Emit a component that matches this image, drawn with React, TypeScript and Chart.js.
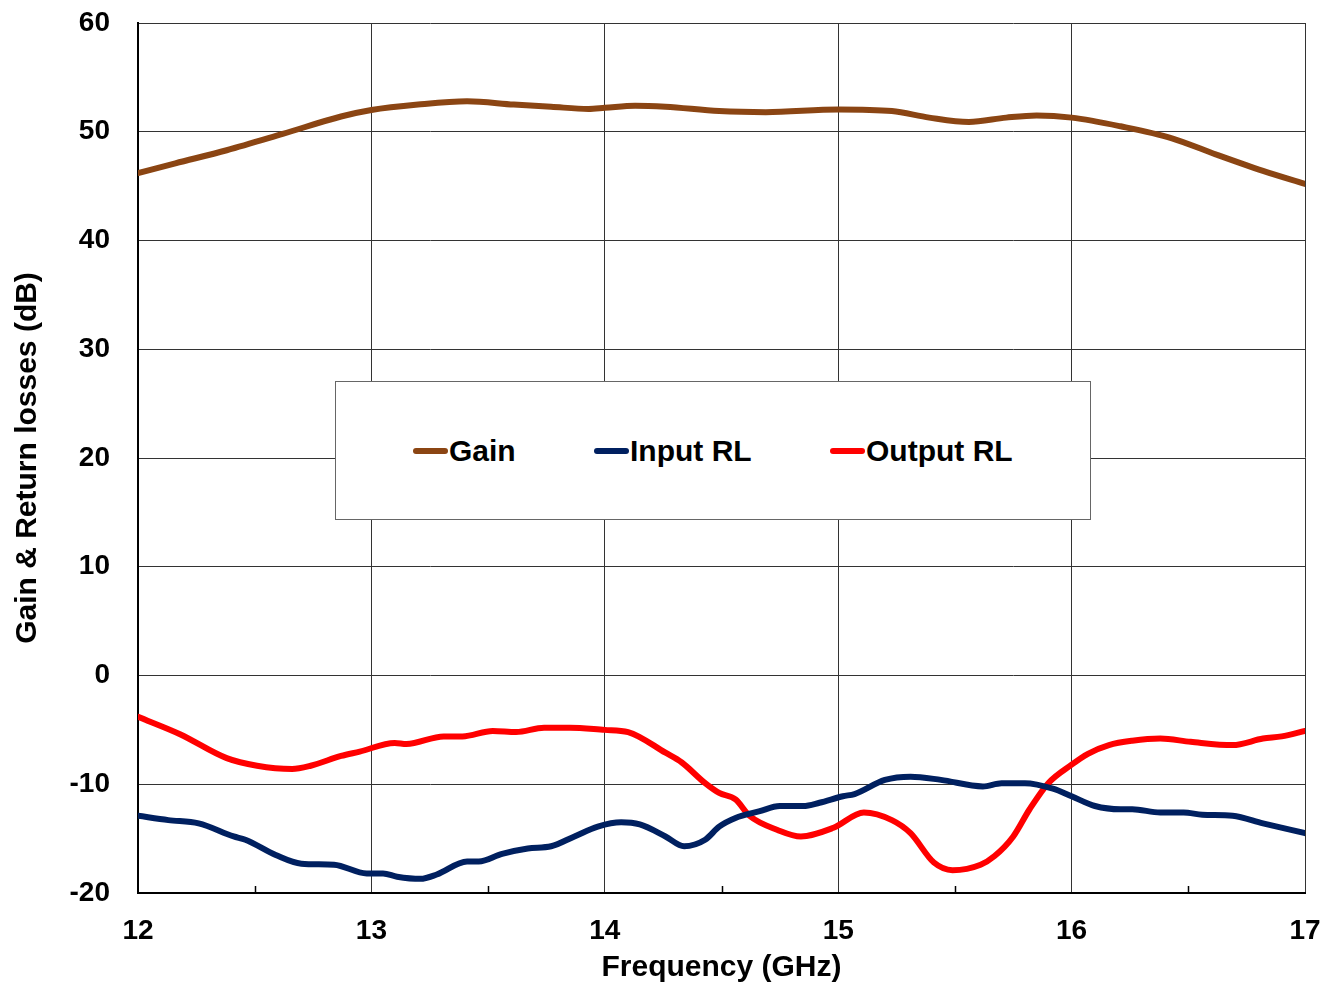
import React, { useEffect, useRef } from 'react';
import { Chart, registerables } from 'chart.js';

Chart.register(...registerables);

// ---- Data ----
const gainFreq = [12.0, 12.16, 12.38, 12.62, 12.87, 13.0, 13.2, 13.41, 13.61, 13.77, 13.93, 14.0, 14.13, 14.26, 14.49, 14.69, 15.0, 15.23, 15.39, 15.56, 15.72, 15.85, 16.0, 16.21, 16.43, 16.62, 16.82, 17.0];
const gainDb = [46.2, 47.1, 48.3, 49.8, 51.4, 52.0, 52.5, 52.8, 52.5, 52.3, 52.1, 52.2, 52.4, 52.3, 51.9, 51.8, 52.05, 51.9, 51.3, 50.9, 51.3, 51.5, 51.3, 50.5, 49.4, 47.9, 46.4, 45.2];

const inputFreq = [12.0, 12.13, 12.26, 12.41, 12.46, 12.59, 12.7, 12.84, 12.98, 13.05, 13.11, 13.21, 13.28, 13.41, 13.46, 13.56, 13.67, 13.77, 13.87, 13.97, 14.07, 14.15, 14.26, 14.34, 14.43, 14.49, 14.56, 14.66, 14.75, 14.85, 14.92, 15.02, 15.07, 15.2, 15.31, 15.44, 15.62, 15.7, 15.8, 15.92, 16.0, 16.1, 16.21, 16.26, 16.38, 16.48, 16.56, 16.69, 16.82, 17.0];
const inputDb = [-12.9, -13.3, -13.6, -14.8, -15.1, -16.5, -17.3, -17.4, -18.2, -18.2, -18.5, -18.7, -18.3, -17.1, -17.1, -16.4, -15.9, -15.7, -14.8, -13.9, -13.5, -13.7, -14.8, -15.7, -15.1, -13.9, -13.1, -12.5, -12.0, -12.0, -11.7, -11.1, -10.9, -9.6, -9.3, -9.6, -10.2, -9.9, -9.9, -10.4, -11.1, -12.0, -12.3, -12.3, -12.6, -12.6, -12.8, -12.9, -13.6, -14.5];

const outputFreq = [12.0, 12.18, 12.38, 12.51, 12.66, 12.74, 12.87, 12.95, 13.1, 13.15, 13.31, 13.39, 13.52, 13.62, 13.74, 13.85, 14.0, 14.1, 14.26, 14.33, 14.43, 14.49, 14.56, 14.62, 14.74, 14.84, 14.98, 15.11, 15.23, 15.31, 15.41, 15.49, 15.61, 15.67, 15.75, 15.82, 15.9, 16.0, 16.07, 16.16, 16.26, 16.38, 16.51, 16.69, 16.82, 16.9, 17.0];
const outputDb = [-3.8, -5.4, -7.6, -8.3, -8.6, -8.3, -7.4, -7.0, -6.2, -6.3, -5.6, -5.6, -5.1, -5.2, -4.8, -4.8, -5.0, -5.2, -7.1, -8.0, -9.9, -10.8, -11.4, -12.9, -14.2, -14.8, -14.0, -12.6, -13.3, -14.5, -17.2, -17.9, -17.4, -16.6, -14.8, -12.3, -9.9, -8.2, -7.2, -6.4, -6.0, -5.8, -6.1, -6.4, -5.8, -5.6, -5.1];

const seriesNames = ['Gain', 'Input RL', 'Output RL'];
const seriesColors = ['#8B4513', '#002060', '#FF0000'];
const minorTickFreqs = [12.5, 13.5, 14.5, 15.5, 16.5];

const FONT = "'Liberation Sans', Arial, sans-serif";

const minorTicksPlugin = {
  id: 'minorTicks',
  afterDraw(chart: any) {
    const { ctx } = chart;
    const xs = chart.scales.x;
    const ys = chart.scales.y;
    ctx.save();
    ctx.strokeStyle = '#000';
    ctx.lineWidth = 1.5;
    ctx.beginPath();
    for (const f of minorTickFreqs) {
      const px = Math.round(xs.getPixelForValue(f)) + 0.5;
      ctx.moveTo(px, ys.bottom);
      ctx.lineTo(px, ys.bottom - 7);
    }
    ctx.stroke();
    ctx.restore();
  },
};

export default function App() {
  const canvasRef = useRef<HTMLCanvasElement | null>(null);

  useEffect(() => {
    const toPts = (xs: number[], ys: number[]) => xs.map((x, i) => ({ x, y: ys[i] }));
    const chart = new Chart(canvasRef.current as HTMLCanvasElement, {
      type: 'line',
      data: {
        datasets: [
          { label: seriesNames[0], data: toPts(gainFreq, gainDb) },
          { label: seriesNames[1], data: toPts(inputFreq, inputDb) },
          { label: seriesNames[2], data: toPts(outputFreq, outputDb) },
        ].map((d, i) => ({
          ...d,
          borderColor: seriesColors[i],
          backgroundColor: seriesColors[i],
          borderWidth: 6,
          pointRadius: 0,
          fill: false,
          cubicInterpolationMode: 'monotone' as const,
          borderCapStyle: 'round' as const,
          borderJoinStyle: 'round' as const,
        })),
      },
      options: {
        responsive: false,
        animation: false,
        layout: { padding: { left: 0, right: 30, top: 23, bottom: 0 } },
        plugins: { legend: { display: false }, tooltip: { enabled: false } },
        scales: {
          x: {
            type: 'linear',
            min: 12,
            max: 17,
            afterFit: (s: any) => {
              s.height = 93;
              s.paddingLeft = 0;
              s.paddingRight = 0;
            },
            ticks: {
              stepSize: 1,
              padding: 21,
              color: '#000',
              font: { family: FONT, size: 28, weight: 'bold' },
            },
            grid: { color: '#333', lineWidth: 1, drawTicks: false },
            border: { color: '#000', width: 2 },
            title: {
              display: true,
              text: 'Frequency (GHz)',
              color: '#000',
              font: { family: FONT, size: 30, weight: 'bold' },
              padding: { top: 0, bottom: 0 },
            },
          },
          y: {
            type: 'linear',
            min: -20,
            max: 60,
            afterFit: (s: any) => {
              s.width = 138;
              s.paddingTop = 0;
              s.paddingBottom = 0;
            },
            ticks: {
              stepSize: 10,
              padding: 28,
              color: '#000',
              font: { family: FONT, size: 28, weight: 'bold' },
            },
            grid: { color: '#333', lineWidth: 1, drawTicks: false },
            border: { color: '#000', width: 2 },
            title: {
              display: true,
              text: 'Gain & Return losses (dB)',
              color: '#000',
              font: { family: FONT, size: 30, weight: 'bold' },
              padding: { top: 10, bottom: 0 },
            },
          },
        },
      },
      plugins: [minorTicksPlugin],
    } as any);
    return () => chart.destroy();
  }, []);

  const legendItems = [
    { line: 413, text: 449 },
    { line: 594, text: 630 },
    { line: 830, text: 866 },
  ];

  return (
    <div style={{ position: 'absolute', left: 0, top: 0, width: 1335, height: 986, background: '#fff' }}>
      <canvas ref={canvasRef} width={1335} height={986} style={{ display: 'block' }} />
      <div
        style={{
          position: 'absolute',
          left: 335,
          top: 381,
          width: 754,
          height: 137,
          background: '#fff',
          border: '1px solid #666',
        }}
      />
      {legendItems.map((it, i) => (
        <React.Fragment key={seriesNames[i]}>
          <div
            style={{
              position: 'absolute',
              left: it.line,
              top: 448,
              width: 35,
              height: 6,
              borderRadius: 3,
              background: seriesColors[i],
            }}
          />
          <div
            style={{
              position: 'absolute',
              left: it.text,
              top: 436,
              font: `bold 30px ${FONT}`,
              lineHeight: '30px',
              color: '#000',
              whiteSpace: 'nowrap',
            }}
          >
            {seriesNames[i]}
          </div>
        </React.Fragment>
      ))}
    </div>
  );
}
